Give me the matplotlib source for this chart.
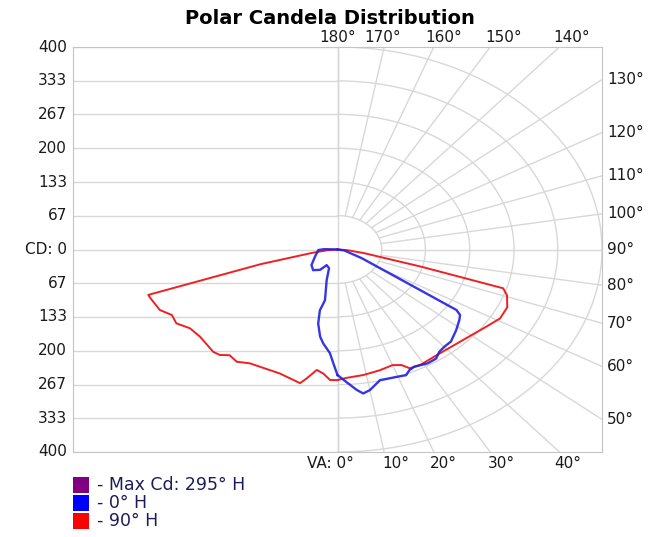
import numpy as np
import matplotlib
matplotlib.use('Agg')
import matplotlib.pyplot as plt
from matplotlib.patches import Rectangle

# vertical angle (deg from nadir) and candela, per half plane
va_90 = [90, 85, 80, 75, 73, 70.5, 66, 61, 56, 47, 36, 29, 25, 23, 20, 15, 9, 3, 0]
cd_90 = [0, 15, 40, 130, 262, 272, 281, 281, 272, 261, 257, 260, 259, 248, 243, 247, 251, 254, 258]

va_270 = [0, 2.5, 5, 7.5, 10.4, 12.1, 19.6, 30.5, 34.5, 38, 40.5, 42.9, 50.4, 55.1, 59.1,
          62.7, 66, 70.5, 72.6, 76, 80, 85, 90]
cd_270 = [258, 258, 246, 240, 259, 270, 260, 261, 269, 265, 274, 276, 270, 272, 284,
          282, 294, 298, 300, 120, 40, 15, 0]

va_0 = [90, 80, 65, 58, 56.4, 55.1, 52.9, 48.4, 43.3, 40.1, 37.3, 34.7, 31.3, 26.6, 24.5,
        22.7, 19.4, 14.0, 10.0, 7.8, 6.0, 3.5, 0]
cd_0 = [0, 10, 40, 120, 216, 226, 231, 240, 250, 251, 254, 262, 263, 259, 262,
        269, 267, 266, 282, 287, 279, 265, 248]

va_180 = [0, 1.6, 3.2, 6.6, 8.7, 11.3, 12.5, 10.7, 15.1, 19.1, 28.0, 33.2, 42.1, 51.9,
          67.3, 88, 92, 90]
cd_180 = [248, 225, 205, 187, 174, 149, 123, 102, 63, 39, 35, 48, 55, 50,
          37, 29, 20, 0]

cd_ticks = [400, 333, 267, 200, 133, 67, 0, -67, -133, -200, -267, -333, -400]
cd_labels = ['400', '333', '267', '200', '133', '67', 'CD: 0', '67', '133', '200', '267', '333', '400']
rings = [67, 133, 200, 267, 333, 400]
top_angles = [180, 170, 160, 150, 140]
right_angles = [130, 120, 110, 100, 90, 80, 70, 60, 50]
bottom_angles = [0, 10, 20, 30, 40]

legend_labels = ['- Max Cd: 295\u00b0 H', '- 0\u00b0 H', '- 90\u00b0 H']
legend_colors = ['#800080', '#0000ff', '#ff0000']

GRID = '#d8d8d8'
TXT = '#1a1a1a'
FS = 11


def xy(va, cd, side):
    t = np.radians(va)
    cd = np.array(cd, dtype=float)
    return side * cd * np.sin(t), -cd * np.cos(t)


fig = plt.figure(figsize=(6.49, 5.37), dpi=100)
W, H = 649, 537
ax = fig.add_axes([73 / W, (H - 452) / H, 529 / W, 405 / H])
ax.set_xlim(-400, 400)
ax.set_ylim(-400, 400)
ax.set_xticks([])
ax.set_yticks([])
for s in ax.spines.values():
    s.set_color('#c4c4c4')

# grid: horizontal lines on the left, rings + spokes on the right
for y in cd_ticks:
    ax.plot([-400, 0], [y, y], color=GRID, lw=1, zorder=1)
ax.axvline(0, color=GRID, lw=1, zorder=1)
th = np.radians(np.linspace(0, 180, 181))
for r in rings:
    ax.plot(r * np.sin(th), -r * np.cos(th), color=GRID, lw=1, zorder=1)
for a in range(0, 181, 10):
    t = np.radians(a)
    ax.plot([rings[0] * np.sin(t), 900 * np.sin(t)], [-rings[0] * np.cos(t), -900 * np.cos(t)],
            color=GRID, lw=1, zorder=1)

# curves
x, y = xy(va_90, cd_90, 1)
ax.plot(x, y, color='#f02020', lw=1.4, zorder=3)
x, y = xy(va_270, cd_270, -1)
ax.plot(x, y, color='#f02020', lw=1.4, zorder=3)
x, y = xy(va_0, cd_0, 1)
ax.plot(x, y, color='#2020e0', lw=1.7, alpha=0.9, zorder=4)
x, y = xy(va_180, cd_180, -1)
ax.plot(x, y, color='#2020e0', lw=1.7, alpha=0.9, zorder=4)

# labels around the box
for v, lab in zip(cd_ticks, cd_labels):
    ax.annotate(lab, (0, v), xycoords=('axes fraction', 'data'), xytext=(-6, 0),
                textcoords='offset pixels', ha='right', va='center', fontsize=FS, color=TXT)

top_off = {180: 0, 170: -2, 160: 10, 150: 13, 140: 12}
for a in top_angles:
    t = np.radians(a)
    xv = 400 * np.sin(t) / -np.cos(t)
    ax.annotate('%d\u00b0' % a, (xv, 1), xycoords=('data', 'axes fraction'),
                xytext=(top_off[a], 9), textcoords='offset pixels',
                ha='center', va='center', fontsize=FS, color=TXT)

for a in right_angles:
    t = np.radians(a)
    yv = -400 * np.cos(t) / np.sin(t)
    ax.annotate('%d\u00b0' % a, (1, yv), xycoords=('axes fraction', 'data'),
                xytext=(5, 0), textcoords='offset pixels',
                ha='left', va='center', fontsize=FS, color=TXT)

bot_off = {10: 12, 20: 10, 30: 11, 40: 8}
for a in bottom_angles:
    t = np.radians(a)
    xv = 400 * np.tan(t)
    if a == 0:
        ax.annotate('VA: 0\u00b0', (xv, 0), xycoords=('data', 'axes fraction'),
                    xytext=(16, -11), textcoords='offset pixels',
                    ha='right', va='center', fontsize=FS, color=TXT)
    else:
        ax.annotate('%d\u00b0' % a, (xv, 0), xycoords=('data', 'axes fraction'),
                    xytext=(bot_off[a], -11), textcoords='offset pixels',
                    ha='center', va='center', fontsize=FS, color=TXT)

fig.text(330 / W, 1 - 18 / H, 'Polar Candela Distribution', ha='center', va='center',
         fontsize=14, fontweight='bold', color='black')

# legend
for i, (lab, col) in enumerate(zip(legend_labels, legend_colors)):
    yc = 485 + 18 * i
    fig.add_artist(Rectangle((73 / W, 1 - (yc + 8) / H), 16 / W, 16 / H,
                             transform=fig.transFigure, facecolor=col, edgecolor='none'))
    fig.text(97 / W, 1 - yc / H, lab, ha='left', va='center', fontsize=12.5, color='#1c1c5c')

fig.savefig('out.png', dpi=100)
